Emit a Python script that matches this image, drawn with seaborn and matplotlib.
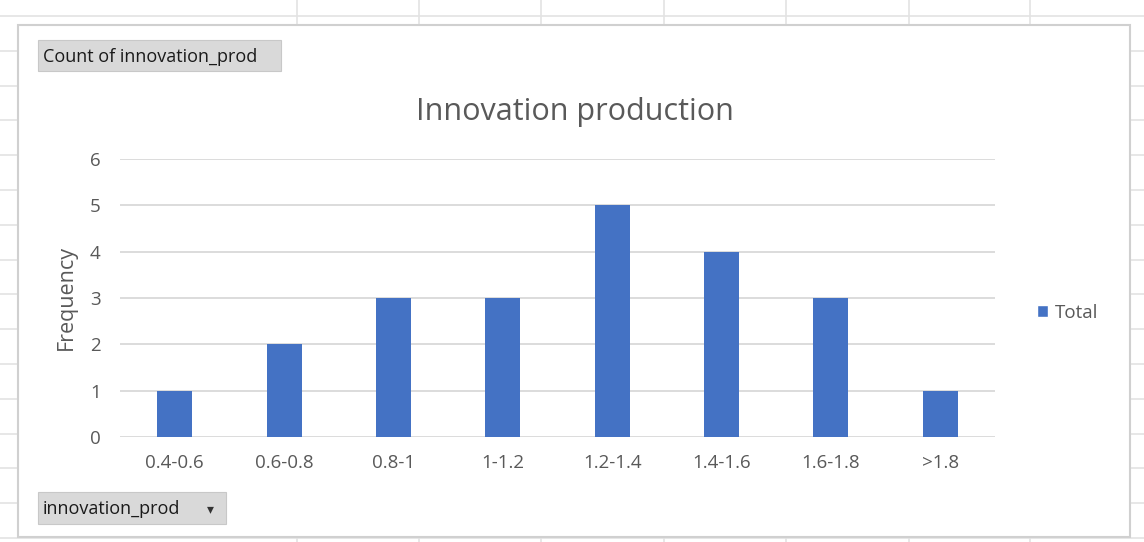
import matplotlib
matplotlib.use("Agg")
import matplotlib.pyplot as plt
import seaborn as sns
import pandas as pd
from matplotlib.patches import Rectangle
from matplotlib.lines import Line2D

categories = ["0.4-0.6", "0.6-0.8", "0.8-1", "1-1.2", "1.2-1.4", "1.4-1.6", "1.6-1.8", ">1.8"]
counts = [1, 2, 3, 3, 5, 4, 3, 1]
series = ["Total"] * len(categories)
yticks = [0, 1, 2, 3, 4, 5, 6]

sns.set_theme(style="white")
plt.rcParams['font.family'] = ['Open Sans', 'DejaVu Sans']

W, H = 1144, 542
fig = plt.figure(figsize=(W / 100, H / 100), dpi=100)
fig.patch.set_facecolor("white")

def fx(x):
    return x / W

def fy(y):
    return 1 - y / H

# spreadsheet grid lines in background
grid_c = "#E3E3E3"
y = 16.0
while y < H:
    fig.add_artist(Line2D([0, 1], [fy(y), fy(y)], color=grid_c, lw=1.2, transform=fig.transFigure, zorder=0))
    y += 34.8
for x in [297, 419, 541, 664, 786, 909, 1030]:
    fig.add_artist(Line2D([fx(x), fx(x)], [0, 1], color=grid_c, lw=1.2, transform=fig.transFigure, zorder=0))

# chart area
fig.add_artist(Rectangle((fx(18), fy(537)), fx(1130) - fx(18), fy(25) - fy(537),
                         facecolor="white", edgecolor="#D0D0D0", lw=1.5,
                         transform=fig.transFigure, zorder=1))

df = pd.DataFrame({"bin": categories, "count": counts, "series": series})

ax = fig.add_axes([fx(120), fy(437), fx(995) - fx(120), fy(159) - fy(437)])
ax.set_zorder(3)
ax.patch.set_alpha(0)
sns.barplot(data=df, x="bin", y="count", hue="series", palette=["#4472C4"],
            width=0.32, dodge=False, ax=ax, legend=False, saturation=1, linewidth=0)

ax.set_ylim(0, 6)
ax.set_yticks(yticks)
ax.set_xlim(-0.5, len(categories) - 0.5)
ax.yaxis.grid(True, color="#D9D9D9", lw=1.3)
ax.set_axisbelow(True)
for s in ax.spines.values():
    s.set_visible(False)
ax.tick_params(axis="both", length=0, colors="#595959", labelsize=13.5)
ax.tick_params(axis="x", pad=12)
ax.tick_params(axis="y", pad=14)
ax.set_xlabel("")
ax.set_ylabel("Frequency", color="#595959", fontsize=15.5, labelpad=9)

fig.text(fx(575), fy(112), "Innovation production", ha="center", va="center",
         fontsize=22, color="#595959")

# legend
handle = Rectangle((0, 0), 1, 1, facecolor="#4472C4")
leg = fig.legend([handle], ["Total"], loc="center left", bbox_to_anchor=(fx(1020), fy(313)),
                 frameon=False, fontsize=13.5, handlelength=0.6, handleheight=0.6,
                 handletextpad=0.35, labelcolor="#595959")

# pivot field buttons
def button(x0, y0, x1, y1, text, arrow=False):
    fig.add_artist(Rectangle((fx(x0), fy(y1)), fx(x1) - fx(x0), fy(y0) - fy(y1),
                             facecolor="#D9D9D9", edgecolor="#C8C8C8", lw=0.8,
                             transform=fig.transFigure, zorder=4))
    fig.text(fx(x0 + 5), fy((y0 + y1) / 2 + 1), text, ha="left", va="center",
             fontsize=13, color="#1A1A1A", zorder=5)
    if arrow:
        fig.text(fx(x1 - 16), fy((y0 + y1) / 2 + 1), "▾", ha="center", va="center",
                 fontsize=10, color="#333333", family=["DejaVu Sans"], zorder=5)

button(38, 40, 281, 71, "Count of innovation_prod")
button(38, 492, 226, 524, "innovation_prod", arrow=True)

fig.savefig("out.png", dpi=100)
